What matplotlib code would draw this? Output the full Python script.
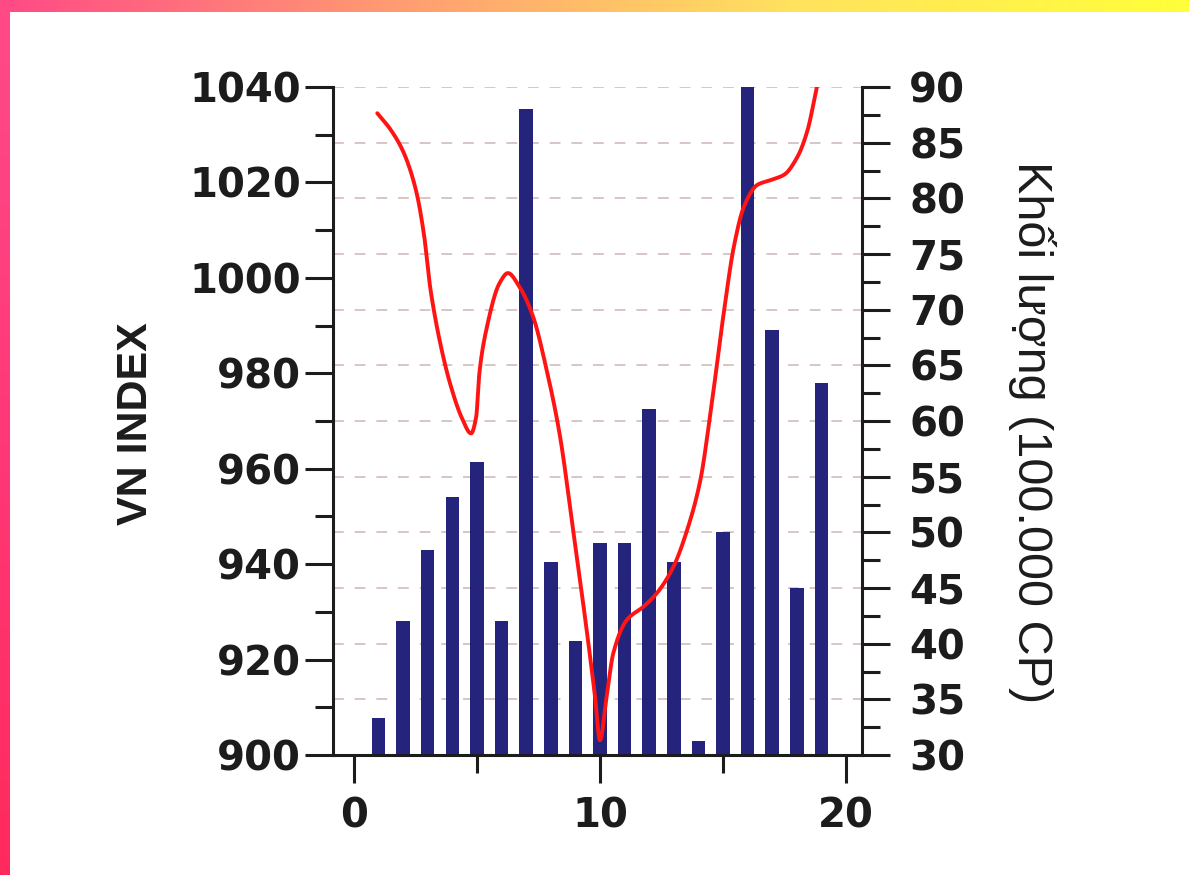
import numpy as np
import matplotlib
matplotlib.use('Agg')
import matplotlib.pyplot as plt
from matplotlib.ticker import MultipleLocator, FixedLocator
from matplotlib.colors import LinearSegmentedColormap

# Volume bars (right axis, 100.000 CP) for days 1..19
days = list(range(1, 20))
volume = [33.3, 42, 48.4, 53.2, 56.3, 42, 88, 47.3, 40.2, 49, 49, 61.1, 47.3, 31.3, 50, 90, 68.2, 45, 63.4]

# VN INDEX curve
vn_day = [0.95, 1.5, 2.0, 2.52, 2.86, 3.06, 3.20, 3.50, 3.90, 4.40, 4.76, 4.97, 5.10, 5.38,
          5.92, 6.26, 6.73, 7.28, 7.82, 8.37, 8.91, 9.46, 9.80, 10.0, 10.27, 10.54, 11.09,
          11.77, 12.31, 12.99, 13.54, 14.08, 14.49, 15.03, 15.44, 15.85, 16.40, 16.94, 17.48,
          18.03, 18.44, 18.71, 18.82]
vn_index = [1034.5, 1031.0, 1026.5, 1018.4, 1008.6, 999.5, 994.7, 986.5, 978.0, 970.5, 967.4,
            970.9, 980.1, 989.1, 998.9, 1001.0, 998.1, 991.9, 981.0, 967.0, 947.1, 926.2,
            912.2, 903.1, 912.2, 921.3, 928.3, 931.1, 933.9, 939.5, 947.1, 957.6, 971.6,
            992.6, 1006.5, 1014.9, 1019.5, 1020.5, 1021.6, 1025.4, 1031.0, 1037.3, 1040.1]


def smooth_line(xs, ys, n=20):
    # monotone cubic (Fritsch-Butland) drawing through the read points
    x = np.asarray(xs, float)
    y = np.asarray(ys, float)
    h = np.diff(x)
    delta = np.diff(y) / h
    d = np.zeros_like(y)
    d[0], d[-1] = delta[0], delta[-1]
    for k in range(1, len(x) - 1):
        if delta[k - 1] * delta[k] > 0:
            w1 = 2 * h[k] + h[k - 1]
            w2 = h[k] + 2 * h[k - 1]
            d[k] = (w1 + w2) / (w1 / delta[k - 1] + w2 / delta[k])
    px, py = [], []
    t = np.linspace(0, 1, n, endpoint=False)
    for k in range(len(x) - 1):
        h00 = 2 * t ** 3 - 3 * t ** 2 + 1
        h10 = t ** 3 - 2 * t ** 2 + t
        h01 = -2 * t ** 3 + 3 * t ** 2
        h11 = t ** 3 - t ** 2
        px.append(x[k] + t * h[k])
        py.append(h00 * y[k] + h10 * h[k] * d[k] + h01 * y[k + 1] + h11 * h[k] * d[k + 1])
    px.append([x[-1]])
    py.append([y[-1]])
    return np.concatenate(px), np.concatenate(py)


num_font = {'family': 'DejaVu Sans', 'weight': 'bold', 'size': 29}
ink = '#1c1c1c'

fig = plt.figure(figsize=(11.89, 8.75), dpi=100)
fig.patch.set_facecolor('white')

# decorative border: gradient strip on top, pink strip on left
top = fig.add_axes([0, 1 - 12 / 875, 1, 12 / 875])
cm_top = LinearSegmentedColormap.from_list('top', ['#ff4a86', '#ff9c72', '#ffe25e', '#ffff3a'])
top.imshow(np.linspace(0, 1, 256)[None, :], aspect='auto', cmap=cm_top)
top.axis('off')
left = fig.add_axes([0, 0, 10 / 1189, 1 - 12 / 875])
cm_left = LinearSegmentedColormap.from_list('left', ['#ff4a88', '#ff3878', '#ff2a5c'])
left.imshow(np.linspace(0, 1, 256)[:, None], aspect='auto', cmap=cm_left)
left.axis('off')

ax = fig.add_axes([333 / 1189, 120 / 875, 529 / 1189, 668 / 875])
ax2 = ax.twinx()

# bars on the volume axis
ax2.bar(days, volume, width=0.55, color='#24247c', zorder=2)
ax2.set_ylim(30, 90)
ax2.yaxis.set_major_locator(MultipleLocator(5))
ax2.yaxis.set_minor_locator(MultipleLocator(2.5))
ax2.grid(axis='y', which='major', color='#d6c2c2', linestyle=(0, (6, 6)), linewidth=1.3)
ax2.set_axisbelow(True)

# VN INDEX line on the left axis, drawn above the bars
sx, sy = smooth_line(vn_day, vn_index)
ax.plot(sx, sy, color='#ff1414', linewidth=2.8, solid_capstyle='round', zorder=5)
ax.set_ylim(900, 1040)
ax.set_xlim(-0.85, 20.65)
ax.set_zorder(ax2.get_zorder() + 1)
ax.patch.set_visible(False)

ax.yaxis.set_major_locator(MultipleLocator(20))
ax.yaxis.set_minor_locator(MultipleLocator(10))
ax.xaxis.set_major_locator(FixedLocator([0, 10, 20]))
ax.xaxis.set_minor_locator(FixedLocator([5, 15]))

for s in ['top', 'right']:
    ax.spines[s].set_visible(False)
for s in ['top', 'left', 'bottom']:
    ax2.spines[s].set_visible(False)
for sp in [ax.spines['left'], ax.spines['bottom'], ax2.spines['right']]:
    sp.set_linewidth(2.2)
    sp.set_color(ink)

ax.tick_params(axis='y', which='major', direction='out', length=20, width=2.2, color=ink, pad=3)
ax.tick_params(axis='y', which='minor', direction='out', length=13, width=2.2, color=ink)
ax.tick_params(axis='x', which='major', direction='out', length=20, width=2.2, color=ink, pad=10)
ax.tick_params(axis='x', which='minor', direction='out', length=13, width=2.2, color=ink)
ax2.tick_params(axis='y', which='major', direction='out', length=20, width=2.2, color=ink, pad=14)
ax2.tick_params(axis='y', which='minor', direction='out', length=13, width=2.2, color=ink)

for lab in ax.get_yticklabels() + ax.get_xticklabels() + ax2.get_yticklabels():
    lab.set_fontproperties(num_font)
    lab.set_color(ink)

ax.set_ylabel('VN INDEX', family='Liberation Sans', weight='bold', fontsize=31,
              color=ink, ha='center', va='center')
ax.yaxis.set_label_coords(-0.372, 0.496)
ax2.set_ylabel('Khối lượng (100.000 CP)', family=['Liberation Sans', 'DejaVu Sans'],
               fontsize=35, color=ink, rotation=270, ha='center', va='center')
ax2.yaxis.set_label_coords(1.321, 0.484)

fig.savefig('out.png', dpi=100)
